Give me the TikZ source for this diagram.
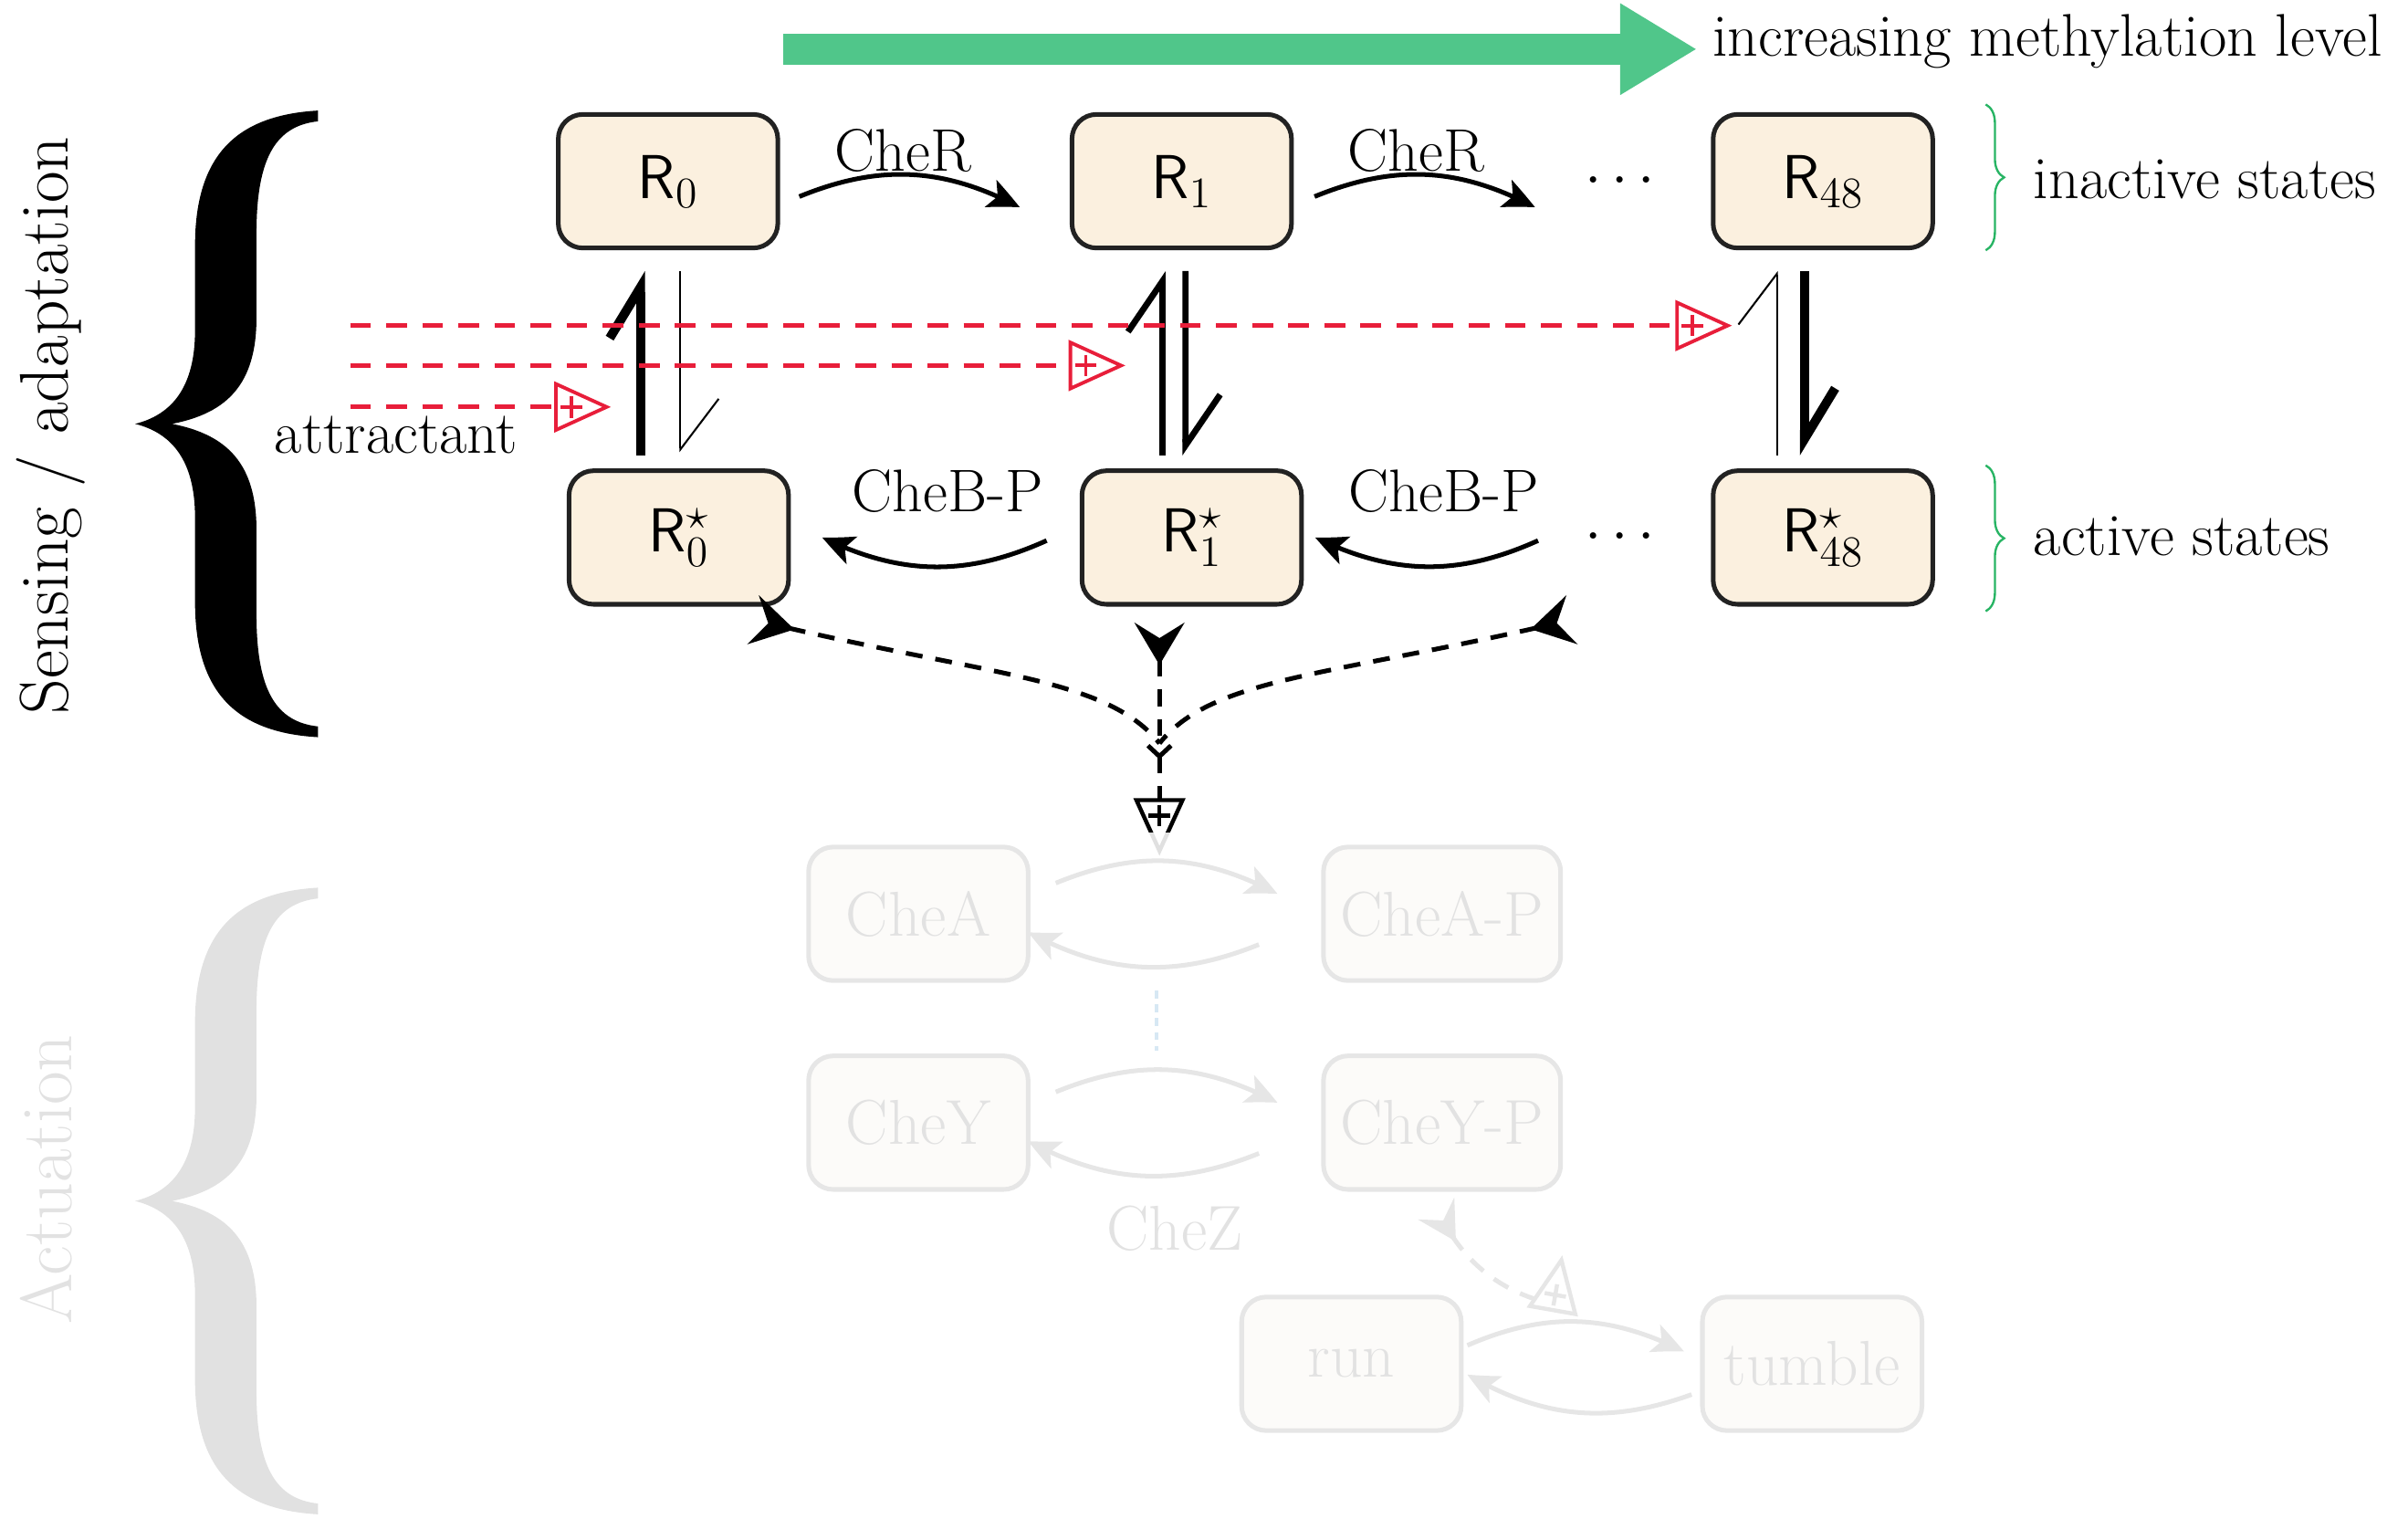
\RequirePackage{fix-cm}
\documentclass[tikz,border=0pt]{standalone}
\usepackage{fontspec}
\usetikzlibrary{arrows.meta,bending,calc,decorations.pathreplacing}
\definecolor{boxfill}{RGB}{251,240,223}
\definecolor{boxline}{RGB}{34,34,34}
\definecolor{attred}{RGB}{232,30,58}
\definecolor{methgreen}{RGB}{80,198,138}
\definecolor{bracegreen}{RGB}{40,180,100}
\definecolor{fadeline}{RGB}{230,230,230}
\definecolor{fadefill}{RGB}{252,251,249}
\definecolor{fadetext}{RGB}{226,226,226}
\definecolor{fadebrace}{RGB}{225,225,225}
\definecolor{fadeblue}{RGB}{215,232,244}
\tikzset{
  box/.style={draw=boxline, fill=boxfill, line width=1.7pt, rounded corners=0.32cm,
    minimum width=2.86cm, minimum height=1.74cm, inner sep=0pt, outer sep=0pt,
    font=\sffamily\fontsize{23}{27}\selectfont},
  fadebox/.style={draw=fadeline, fill=fadefill, line width=1.7pt, rounded corners=0.32cm,
    minimum width=2.86cm, minimum height=1.74cm, inner xsep=0.22cm, inner ysep=0pt, outer sep=0pt,
    text=fadetext, font=\fontsize{23.5}{27}\selectfont},
  catarrow/.style={line width=1.7pt, -{Stealth[length=0.42cm,width=0.38cm,inset=0.1cm,bend]}},
  fadearrow/.style={draw=fadeline, line width=1.7pt, -{Stealth[length=0.42cm,width=0.38cm,inset=0.1cm,bend]}},
  reddash/.style={draw=attred, line width=1.7pt, dash pattern=on 0.27cm off 0.2cm},
  bdash/.style={line width=1.7pt, dash pattern=on 0.22cm off 0.17cm},
  tailtip/.style={{Stealth[reversed,length=0.55cm,width=0.65cm,inset=0.2cm]}-},
  thickharp/.style={line width=3.4pt, -{Straight Barb[left,length=0.66cm,width=0.8cm]}},
  medharp/.style={line width=2.3pt, -{Straight Barb[left,length=0.66cm,width=0.9cm]}},
  thinharp/.style={line width=0.7pt, -{Straight Barb[left,length=0.66cm,width=1cm]}},
  plustri/.pic={
    \filldraw[fill=white, line join=miter] (0,-15) -- (33,0) -- (0,15) -- cycle;
    \draw (3,0) -- (17,0) (10,-7) -- (10,7);
  },
  bigbrace/.pic={
    \fill (207,72) .. controls (155,75) and (127,100) .. (127,160)
      -- (127,215) .. controls (127,252) and (112,270) .. (88,276)
      .. controls (112,282) and (127,300) .. (127,337)
      -- (127,392) .. controls (127,452) and (155,477) .. (207,480)
      -- (207,473) .. controls (180,470) and (167,450) .. (167,400)
      -- (167,345) .. controls (167,302) and (148,283) .. (112,276)
      .. controls (148,269) and (167,250) .. (167,207)
      -- (167,152) .. controls (167,102) and (180,82) .. (207,79) -- cycle;
  }
}
\begin{document}
\begin{tikzpicture}[x=0.02cm,y=-0.02cm, every node/.style={font=\fontsize{22.3}{26}\selectfont}]
\useasboundingbox (0,0) rectangle (1568,989);

% ---------- braces and side labels ----------
\pic[black] at (0,0) {bigbrace};
\pic[fadebrace] at (0,506) {bigbrace};
\node[rotate=90, font=\fontsize{25.5}{28}\selectfont] (sens) at (33,277) {Sensing / adaptation};
\node[rotate=90, text=fadetext, font=\fontsize{27}{30}\selectfont] (act) at (30,768) {Actuation};

% ---------- methylation arrow ----------
\coordinate (gs) at (510,32);
\node[anchor=west] (meth) at (1109,27) {increasing methylation level};
\draw[draw=methgreen, line width=0.4cm, -{Triangle[length=1cm,width=1.12cm]}] (gs) -- ($(meth.west |- gs)+(-4,0)$);

% ---------- receptor states ----------
\node[box] (R0) at (435,118) {R$_0$};
\node[box] (R1) at (769.5,118) {R$_1$};
\node[box] (R48) at (1187,118) {R$_{48}$};
\node[box] (R0s) at (442,350) {R$^\star_0$};
\node[box] (R1s) at (776,350) {R$^\star_1$};
\node[box] (R48s) at (1187,350) {R$^\star_{48}$};
\node (dt1) at (1055,118) {$\cdots$};
\node (dt2) at (1055,350) {$\cdots$};

% methylation / demethylation
\draw[catarrow] ($(R0.east)+(14,10)$) to[bend left=25] ($(R1.west)+(-34,17)$);
\draw[catarrow] ($(R1.east)+(15,10)$) to[bend left=25] ($(R48.west)+(-116,17)$);
\node (cr1) at (588,98) {CheR};
\node (cr2) at (922,98) {CheR};
\draw[catarrow] ($(R1s.west)+(-23,2)$) to[bend left=25] ($(R0s.east)+(22,0)$);
\draw[catarrow] ($(R48s.west)+(-114,2)$) to[bend left=25] ($(R1s.east)+(9,0)$);
\node (cb1) at (617,320) {CheB-P};
\node (cb2) at (940,320) {CheB-P};

% activation equilibria
\draw[thickharp] ($(R0s.north)+(-25,-10)$) -- ($(R0.south)+(-18,15)$);
\draw[thinharp] ($(R0.south)+(8,15)$) -- ($(R0s.north)+(1,-12)$);
\draw[medharp] ($(R1s.north)+(-19,-10)$) -- ($(R1.south)+(-12.5,15)$);
\draw[medharp] ($(R1.south)+(2.5,15)$) -- ($(R1s.north)+(-4,-10)$);
\draw[thinharp] ($(R48s.north)+(-30,-10)$) -- ($(R48.south)+(-30,15)$);
\draw[thickharp] ($(R48.south)+(-12,15)$) -- ($(R48s.north)+(-12,-10)$);

% attractant
\coordinate (a1) at (228,212); \coordinate (t1) at (1092,212);
\coordinate (a2) at (228,238); \coordinate (t2) at (697,238);
\coordinate (a3) at (228,265); \coordinate (t3) at (362,265);
\draw[reddash] (a1) -- (t1);
\draw[reddash] (a2) -- (t2);
\draw[reddash] (a3) -- (t3);
\pic[attred, line width=1.3pt] at (t1) {plustri};
\pic[attred, line width=1.3pt] at (t2) {plustri};
\pic[attred, line width=1.3pt] at (t3) {plustri};
\node (att) at (258,283) {attractant};

% active receptors activate CheA
\coordinate (merge) at (755,484);
\coordinate (tb) at (755,521);
\draw[bdash, tailtip] ($(R0s.south east)+(-23,10)$) .. controls (640,440) and (720,440) .. (merge);
\draw[bdash, tailtip] ($(R1s.south)+(-21,12)$) -- (merge);
\draw[bdash, tailtip] ($(R48s.south west)+(-92,10)$) .. controls (870,440) and (790,440) .. (merge);
\draw[bdash, {Straight Barb[reversed,length=0.14cm,width=0.3cm]}-] (merge) -- (tb);
\pic[black, line width=1.5pt, rotate=-90] at (tb) {plustri};
\fill[white, opacity=0.88] (735,542) rectangle (775,560);

% ---------- actuation (faded) ----------
\node[fadebox] (cheA) at (598,595) {CheA};
\node[fadebox] (cheAP) at (939,595) {CheA-P};
\node[fadebox] (cheY) at (598,731) {CheY};
\node[fadebox] (cheYP) at (939,731) {CheY-P};
\node[fadebox] (run) at (880,888) {run};
\node[fadebox] (tumble) at (1180,888) {tumble};

\draw[fadearrow] ($(cheA.east)+(18,-20)$) to[bend left=25] ($(cheAP.west)+(-30,-13)$);
\draw[fadearrow] ($(cheAP.west)+(-42,20)$) to[bend left=25] ($(cheA.east)+(0,12)$);
\draw[fadearrow] ($(cheY.east)+(18,-20)$) to[bend left=25] ($(cheYP.west)+(-30,-13)$);
\draw[fadearrow] ($(cheYP.west)+(-42,20)$) to[bend left=25] ($(cheY.east)+(0,12)$);
\node[text=fadetext, font=\fontsize{23.5}{27}\selectfont] (chez) at (765,800) {CheZ};
\draw[fadearrow] ($(run.east)+(4,-12)$) to[bend left=25] ($(tumble.west)+(-12,-8)$);
\draw[fadearrow] ($(tumble.west)+(-7,20)$) to[bend left=25] ($(run.east)+(4,7)$);

\coordinate (d1) at (753,645); \coordinate (d2) at (753,684);
\draw[draw=fadeblue, line width=1.2pt, dash pattern=on 0.1cm off 0.08cm] (d1) -- (d2);

\coordinate (tg) at (1011,853);
\draw[bdash, draw=fadeline, {Stealth[reversed,length=0.5cm,width=0.55cm,inset=0.18cm]}-]
  ($(cheYP.south)+(-3,12)$) .. controls (950,820) and (975,838) .. (1000,846);
\pic[fadeline, line width=1.5pt, rotate=80] at (tg) {plustri};

% ---------- state braces ----------
\draw[decorate, decoration={brace, amplitude=0.24cm}, draw=bracegreen, line width=0.8pt] (1293,68) -- (1293,163);
\draw[decorate, decoration={brace, amplitude=0.24cm}, draw=bracegreen, line width=0.8pt] (1293,303) -- (1293,398);
\node[anchor=west] (inact) at (1318,117) {inactive states};
\node[anchor=west] (act2) at (1318,349) {active states};
\end{tikzpicture}
\end{document}
